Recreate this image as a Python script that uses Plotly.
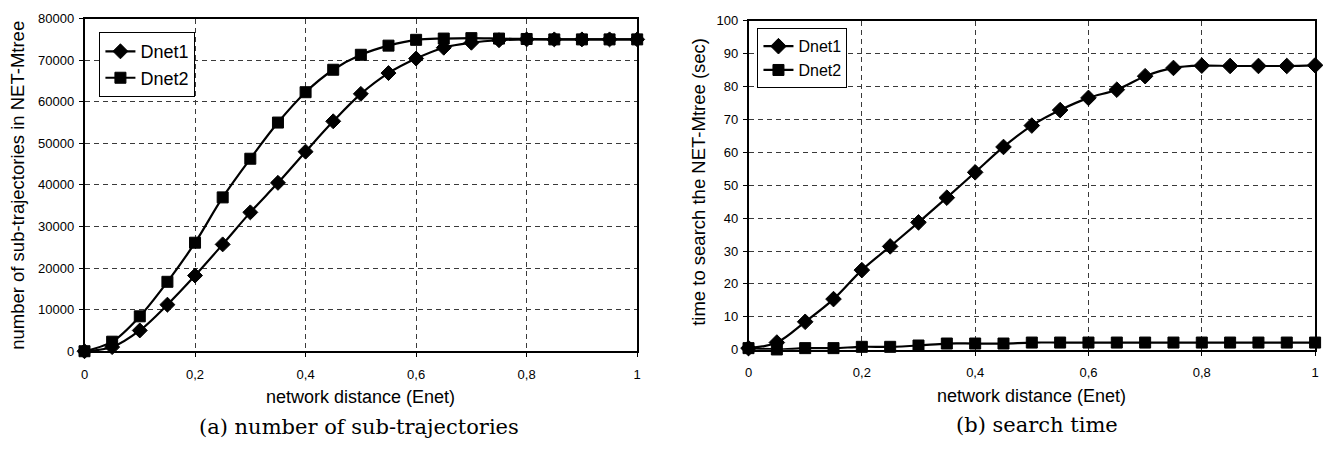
import plotly.graph_objects as go

# network distance (Enet) sample points
distance = [0, 0.05, 0.1, 0.15, 0.2, 0.25, 0.3, 0.35, 0.4, 0.45, 0.5,
            0.55, 0.6, 0.65, 0.7, 0.75, 0.8, 0.85, 0.9, 0.95, 1.0]

# (a) number of sub-trajectories in NET-Mtree
count_dnet1 = [0, 1000, 5000, 11200, 18200, 25700, 33400, 40500, 48000, 55300, 61900,
               66900, 70400, 73000, 74200, 74800, 75000, 75000, 75000, 75000, 75000]
count_dnet2 = [0, 2300, 8400, 16700, 26100, 37000, 46300, 55000, 62300, 67700, 71300,
               73500, 74900, 75200, 75300, 75200, 75100, 75000, 75000, 75000, 75000]

# (b) time to search the NET-Mtree (sec)
time_dnet1 = [0.5, 2.2, 8.5, 15.4, 24.2, 31.4, 38.7, 46.2, 53.9, 61.6, 68.1,
              72.8, 76.5, 79.0, 83.1, 85.6, 86.3, 86.2, 86.2, 86.2, 86.4]
time_dnet2 = [0.5, 0.1, 0.5, 0.5, 0.9, 0.9, 1.3, 1.9, 1.9, 1.9, 2.2,
              2.2, 2.2, 2.2, 2.2, 2.2, 2.2, 2.2, 2.2, 2.2, 2.2]

x_tickvals = [0, 0.2, 0.4, 0.6, 0.8, 1]
x_ticktext = ["0", "0,2", "0,4", "0,6", "0,8", "1"]
count_ticks = [0, 10000, 20000, 30000, 40000, 50000, 60000, 70000, 80000]
time_ticks = [0, 10, 20, 30, 40, 50, 60, 70, 80, 90, 100]

W, H = 1337, 454
SANS = "Arial, Liberation Sans, sans-serif"
SERIF = "DejaVu Serif, serif"


def px(x):
    return x / W


def py(y):
    return 1 - y / H


fig = go.Figure()


def add_series(xa, ya, y, name, symbol, size, legend):
    fig.add_trace(go.Scatter(
        x=distance, y=y, name=name, mode="lines+markers",
        xaxis=xa, yaxis=ya, legend=legend,
        line=dict(color="black", width=2.2, shape="spline", smoothing=1),
        marker=dict(symbol=symbol, size=size, color="black",
                    line=dict(color="black", width=1)),
        cliponaxis=False,
    ))


add_series("x", "y", count_dnet1, "Dnet1", "diamond", 11.5, "legend")
add_series("x", "y", count_dnet2, "Dnet2", "square", 11, "legend")
add_series("x2", "y2", time_dnet1, "Dnet1", "diamond", 12, "legend2")
add_series("x2", "y2", time_dnet2, "Dnet2", "square", 11, "legend2")

axis_common = dict(
    showline=True, linecolor="black", linewidth=1.5, mirror=True,
    ticks="outside", ticklen=4, tickcolor="black", tickwidth=1,
    showgrid=True, gridcolor="#3a3a3a", gridwidth=1, griddash="5px,4px",
    zeroline=False, tickfont=dict(family=SANS, size=13, color="black"),
)

fig.update_layout(
    width=W, height=H, margin=dict(l=0, r=0, t=0, b=0),
    paper_bgcolor="white", plot_bgcolor="white",
    xaxis=dict(domain=[px(81), px(637)], range=[0, 1], anchor="y",
               tickvals=x_tickvals, ticktext=x_ticktext, ticklabelstandoff=6, **axis_common),
    yaxis=dict(domain=[py(356), py(12)], range=[0, 80000], anchor="x",
               tickvals=count_ticks, ticktext=[str(v) for v in count_ticks],
               ticklabelstandoff=2, **axis_common),
    xaxis2=dict(domain=[px(749), px(1319)], range=[0, 1], anchor="y2",
                tickvals=x_tickvals, ticktext=x_ticktext, ticklabelstandoff=6, **axis_common),
    yaxis2=dict(domain=[py(354.5), py(14)], range=[0, 100], anchor="x2",
                tickvals=time_ticks, ticktext=[str(v) for v in time_ticks],
                ticklabelstandoff=2, **axis_common),
    legend=dict(x=px(96), y=py(26), xanchor="left", yanchor="top",
                bgcolor="white", bordercolor="black", borderwidth=1,
                font=dict(family=SANS, size=18, color="black"),
                itemwidth=30, tracegroupgap=0),
    legend2=dict(x=px(758), y=py(22), xanchor="left", yanchor="top",
                 bgcolor="white", bordercolor="black", borderwidth=1,
                 font=dict(family=SANS, size=16, color="black"),
                 itemwidth=30, tracegroupgap=0),
    showlegend=True,
)

texts = [
    # axis titles
    dict(x=px(359), y=py(403), text="network distance (Enet)", size=18, family=SANS, angle=0),
    dict(x=px(1034), y=py(402), text="network distance (Enet)", size=18, family=SANS, angle=0),
    dict(x=px(14), y=py(184), text="number of sub-trajectories in NET-Mtree", size=18.5, family=SANS, angle=-90),
    dict(x=px(698), y=py(181), text="time to search the NET-Mtree (sec)", size=18.5, family=SANS, angle=-90),
    # captions
    dict(x=px(357), y=py(434), text="(a) number of sub-trajectories", size=21, family=SERIF, angle=0),
    dict(x=px(1039), y=py(432), text="(b) search time", size=21, family=SERIF, angle=0),
]
for t in texts:
    fig.add_annotation(x=t["x"], y=t["y"], xref="paper", yref="paper",
                       text=t["text"], showarrow=False, textangle=t["angle"],
                       xanchor="center", yanchor="middle",
                       font=dict(family=t["family"], size=t["size"], color="black"))

fig.write_html("out.html")
